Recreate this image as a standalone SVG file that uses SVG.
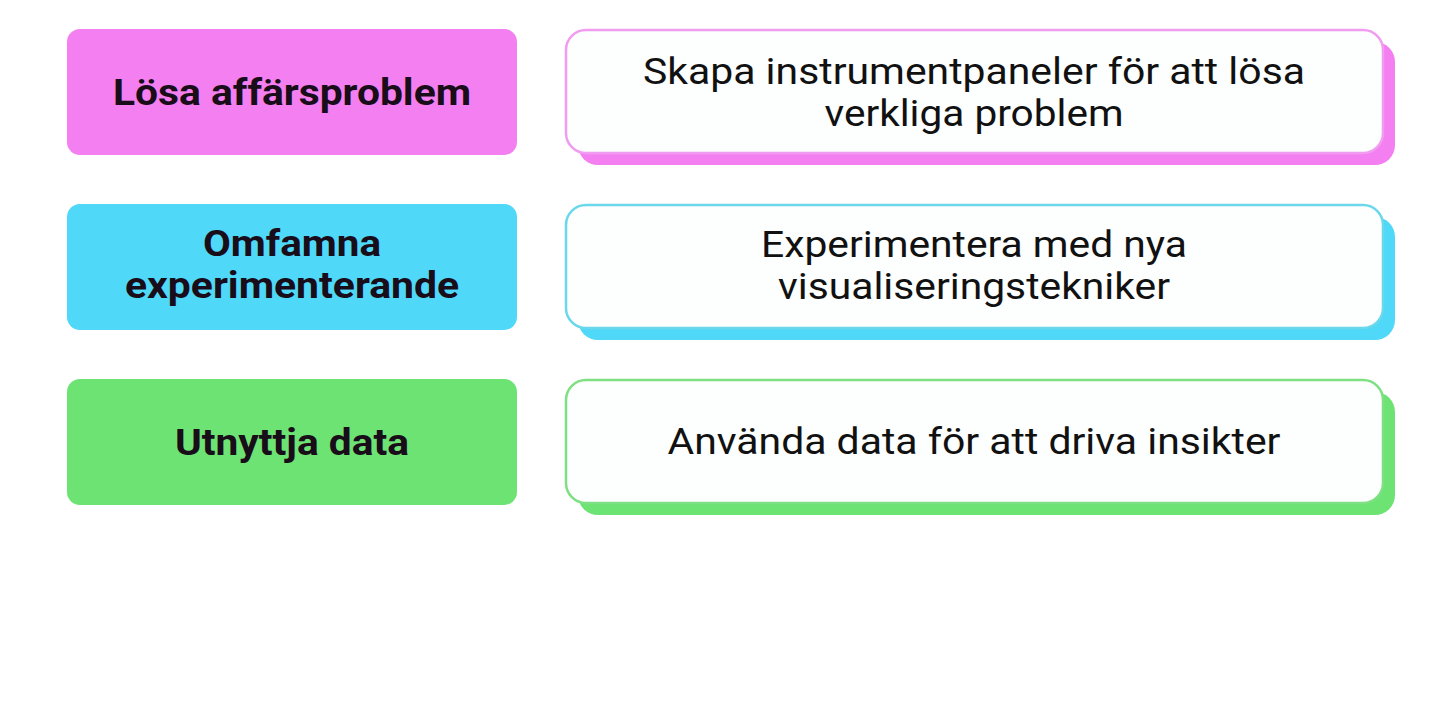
<svg xmlns="http://www.w3.org/2000/svg" width="1436" height="714" viewBox="0 0 1436 714">
<style>
.lt{font-family:Roboto,"Liberation Sans",sans-serif;font-weight:bold;font-size:36px;fill:#180d18;text-anchor:middle}
.rt{font-family:Roboto,"Liberation Sans",sans-serif;font-size:36px;fill:#111;text-anchor:middle}
.card{fill:#fdfefe;stroke-width:2.5}
</style>
<rect width="1436" height="714" fill="#ffffff"/>
<g id="connectors"></g>
<g id="n1">
<rect x="67" y="29" width="450" height="126" rx="13" fill="#f47ff1"/>
<text class="lt" x="292" y="105" textLength="358" lengthAdjust="spacingAndGlyphs">Lösa affärsproblem</text>
</g>
<g id="n1d">
<rect x="578" y="42" width="817" height="123" rx="20" fill="#f47ff1"/>
<rect class="card" x="566" y="30" width="817" height="123" rx="20" stroke="#f09cf0"/>
<text class="rt" x="974" y="84" textLength="662" lengthAdjust="spacingAndGlyphs">Skapa instrumentpaneler för att lösa</text>
<text class="rt" x="974" y="126" textLength="299" lengthAdjust="spacingAndGlyphs">verkliga problem</text>
</g>
<g id="n2">
<rect x="67" y="204" width="450" height="126" rx="13" fill="#4fd8f8"/>
<text class="lt" x="292" y="256" textLength="178" lengthAdjust="spacingAndGlyphs">Omfamna</text>
<text class="lt" x="292" y="298" textLength="334" lengthAdjust="spacingAndGlyphs">experimenterande</text>
</g>
<g id="n2d">
<rect x="578" y="217" width="817" height="123" rx="20" fill="#4fd8f8"/>
<rect class="card" x="566" y="205" width="817" height="123" rx="20" stroke="#6ad8ea"/>
<text class="rt" x="974" y="257" textLength="426" lengthAdjust="spacingAndGlyphs">Experimentera med nya</text>
<text class="rt" x="974" y="299" textLength="392" lengthAdjust="spacingAndGlyphs">visualiseringstekniker</text>
</g>
<g id="n3">
<rect x="67" y="379" width="450" height="126" rx="13" fill="#6de374"/>
<text class="lt" x="292" y="455" textLength="234" lengthAdjust="spacingAndGlyphs">Utnyttja data</text>
</g>
<g id="n3d">
<rect x="578" y="392" width="817" height="123" rx="20" fill="#6de374"/>
<rect class="card" x="566" y="380" width="817" height="123" rx="20" stroke="#7ee083"/>
<text class="rt" x="974" y="454" textLength="613" lengthAdjust="spacingAndGlyphs">Använda data för att driva insikter</text>
</g>
</svg>
